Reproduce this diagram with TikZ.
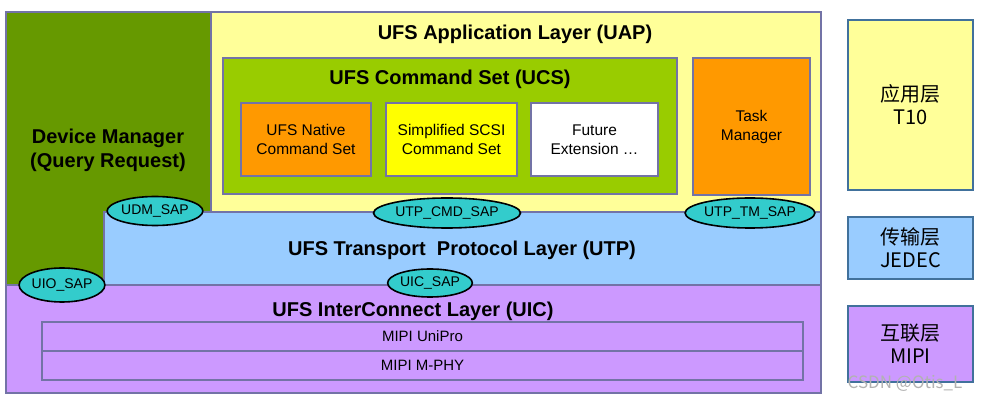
\documentclass[tikz,border=0pt]{standalone}
\usepackage{fontspec}
\setmainfont{Liberation Sans}
\newfontfamily\cjk{Noto Sans CJK SC}
\usetikzlibrary{shapes.geometric}
\definecolor{dmgreen}{HTML}{669900}
\definecolor{uapyellow}{HTML}{FFFF99}
\definecolor{ucsgreen}{HTML}{99CC00}
\definecolor{orng}{HTML}{FF9900}
\definecolor{yel}{HTML}{FFFF00}
\definecolor{utpblue}{HTML}{99CCFF}
\definecolor{uicpurple}{HTML}{CC99FF}
\definecolor{sapteal}{HTML}{33CCCC}
\definecolor{edgecol}{HTML}{7373A6}
\definecolor{sideedge}{HTML}{41719C}
\begin{document}
\begin{tikzpicture}[x=1pt,y=-1pt,
  rbox/.style args={#1/#2}{draw=edgecol,line width=1.6pt,inner sep=0pt,outer sep=0pt,
    anchor=north west,minimum width=#1pt,minimum height=#2pt},
  sidebox/.style args={#1/#2}{draw=sideedge,line width=1.6pt,inner sep=0pt,outer sep=0pt,
    anchor=north west,minimum width=#1pt,minimum height=#2pt},
  bigtitle/.style={font=\fontsize{20}{24}\selectfont\bfseries,align=center,inner sep=0pt},
  boxtext/.style={font=\fontsize{15.5}{19}\selectfont,align=center,inner sep=0pt},
  sap/.style={ellipse,draw=black,line width=1.6pt,fill=sapteal,inner sep=0pt,
    font=\fontsize{14}{16}\selectfont},
  sidetext/.style={font=\fontsize{20}{23}\selectfont\cjk,align=center,inner sep=0pt}]
\useasboundingbox (0,0) rectangle (983,403);
\fill[white] (0,0) rectangle (983,403);
% layers
\node[rbox=815/108,fill=uicpurple] (uic) at (6,285) {};
\draw[draw=edgecol,line width=1.6pt,fill=dmgreen]
  (6,12) -- (211,12) -- (211,212) -- (104,212) -- (104,285) -- (6,285) -- cycle;
\node[rbox=610/200,fill=uapyellow] (uap) at (211,12) {};
\node[rbox=717/73,fill=utpblue] (utp) at (104,212) {};
% UCS
\node[rbox=454/136,fill=ucsgreen] (ucs) at (223,58) {};
\node[rbox=130/73,fill=orng] (native) at (241,103) {};
\node[rbox=131/73,fill=yel] (scsi) at (386,103) {};
\node[rbox=127/73,fill=white] (future) at (531,103) {};
\node[rbox=117/137,fill=orng] (tm) at (693,58) {};
\node[boxtext] at (native.center) {UFS Native\\Command Set};
\node[boxtext] at (scsi.center) {Simplified SCSI\\Command Set};
\node[boxtext] at (future.center) {Future\\Extension \dots};
\node[boxtext] at (tm.center) {Task\\Manager};
% MIPI
\node[rbox=761/29] (unipro) at (42,322) {};
\node[rbox=761/29] (mphy) at (42,351) {};
\node[boxtext,font=\fontsize{15}{18}\selectfont] at (unipro.center) {MIPI UniPro};
\node[boxtext,font=\fontsize{15}{18}\selectfont] at (mphy.center) {MIPI M-PHY};
% titles
\node[bigtitle] (uaptitle) at (515,34) {UFS Application Layer (UAP)};
\node[bigtitle] (ucstitle) at (450,79) {UFS Command Set (UCS)};
\node[bigtitle] (utptitle) at (462,250) {UFS Transport\ \ Protocol Layer (UTP)};
\node[bigtitle] (uictitle) at (413,311) {UFS InterConnect Layer (UIC)};
\node[bigtitle] (dm) at (108,150) {Device Manager\\(Query Request)};
% SAPs
\node[sap,minimum width=88pt,minimum height=29pt] (udm) at (155,211) {UDM\_SAP};
\node[sap,minimum width=82pt,minimum height=34pt] (uio) at (62,285) {UIO\_SAP};
\node[sap,minimum width=83pt,minimum height=28pt] (uicsap) at (430,283) {UIC\_SAP};
\node[sap,minimum width=147pt,minimum height=30pt] (cmd) at (447,213) {UTP\_CMD\_SAP};
\node[sap,minimum width=114pt,minimum height=30pt] (tmsap) at (750,213) {UTP\_TM\_SAP};
% side legend
\node[sidebox=125/170,fill=uapyellow] (t10) at (848,20) {};
\node[sidebox=125/62,fill=utpblue] (jedec) at (848,217) {};
\node[sidebox=125/76,fill=uicpurple] (mipi) at (848,306) {};
\node[sidetext] at (t10.center) {应用层\\T10};
\node[sidetext] at (jedec.center) {传输层\\JEDEC};
\node[sidetext] at (mipi.center) {互联层\\MIPI};
% watermark
\node[font=\fontsize{17}{20}\selectfont\cjk,text=black!30,inner sep=0pt] (wm) at (905,383) {CSDN @Otis\_L};
\end{tikzpicture}
\end{document}
